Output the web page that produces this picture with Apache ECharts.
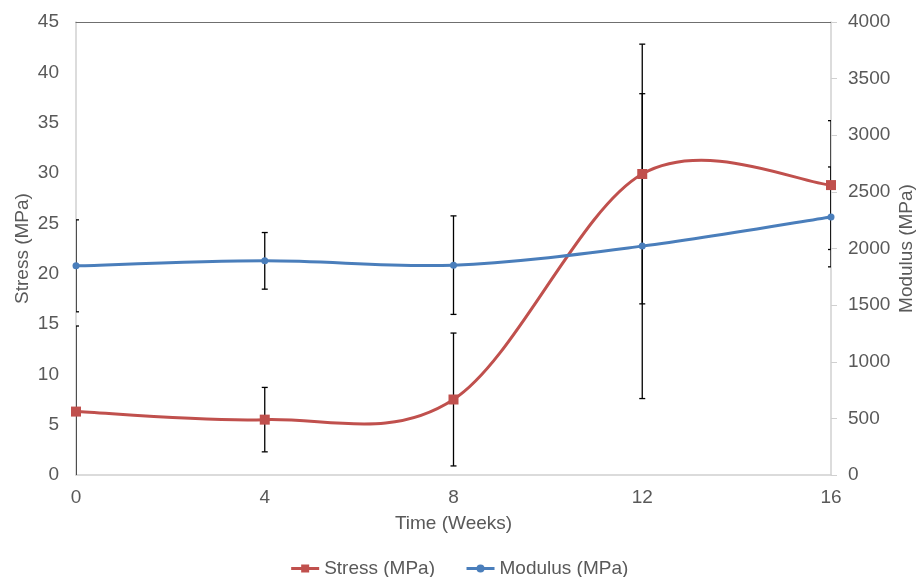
<!DOCTYPE html>
<html>
<head>
<meta charset="utf-8">
<script src="https://cdn.jsdelivr.net/npm/echarts@6/dist/echarts.min.js"></script>
<style>
  html, body { margin: 0; padding: 0; background: #fff; }
  #chart { width: 918px; height: 577px; }
</style>
</head>
<body>
<div id="chart"></div>
<script>
// values
var weeks = [0, 4, 8, 12, 16];
var stress = [6.3, 5.5, 7.5, 29.9, 28.8];
var stressErr = [8.5, 3.2, 6.6, 12.9, 6.4];
var modulus = [1847, 1891, 1853, 2021, 2279];
var modulusErr = [406, 250, 435, 1346, 441];

var RED = '#c0504d', BLUE = '#4a7ebb';
var FONT = '"Liberation Sans", Arial, sans-serif';
var GREY = '#595959';

function pairs(xs, ys) {
    return xs.map(function (x, i) { return [x, ys[i]]; });
}
function errData(xs, ys, es) {
    return xs.map(function (x, i) { return [x, ys[i] - es[i], ys[i] + es[i]]; });
}
// one item per segment: previous, start, end, next point (ends repeated)
function segments(xs, ys) {
    var out = [];
    for (var i = 0; i < xs.length - 1; i++) {
        var a = Math.max(i - 1, 0), d = Math.min(i + 2, xs.length - 1);
        out.push([xs[a], ys[a], xs[i], ys[i], xs[i + 1], ys[i + 1], xs[d], ys[d]]);
    }
    return out;
}

// whisker: vertical line + caps
function renderErr(params, api) {
    var lo = api.coord([api.value(0), api.value(1)]);
    var hi = api.coord([api.value(0), api.value(2)]);
    var w = 3;
    var style = { stroke: '#000', lineWidth: 1.3 };
    return {
        type: 'group',
        children: [
            { type: 'line', shape: { x1: lo[0], y1: lo[1], x2: hi[0], y2: hi[1] }, style: style },
            { type: 'line', shape: { x1: lo[0] - w, y1: lo[1], x2: lo[0] + w, y2: lo[1] }, style: style },
            { type: 'line', shape: { x1: hi[0] - w, y1: hi[1], x2: hi[0] + w, y2: hi[1] }, style: style }
        ]
    };
}

// catmull-rom style smoothing, like the spreadsheet's smoothed line
function curveRenderer(color) {
    return function (params, api) {
        var p = [];
        for (var k = 0; k < 4; k++) p.push(api.coord([api.value(2 * k), api.value(2 * k + 1)]));
        return {
            type: 'bezierCurve',
            shape: {
                x1: p[1][0], y1: p[1][1],
                x2: p[2][0], y2: p[2][1],
                cpx1: p[1][0] + (p[2][0] - p[0][0]) / 6,
                cpy1: p[1][1] + (p[2][1] - p[0][1]) / 6,
                cpx2: p[2][0] - (p[3][0] - p[1][0]) / 6,
                cpy2: p[2][1] - (p[3][1] - p[1][1]) / 6
            },
            style: { stroke: color, lineWidth: 3, fill: null, lineCap: 'round' }
        };
    };
}

var chart = echarts.init(document.getElementById('chart'), null, { renderer: 'canvas' });

chart.setOption({
    animation: false,
    textStyle: { fontFamily: FONT },
    grid: { left: 76, right: 87, top: 22, bottom: 102, containLabel: false, outerBoundsMode: 'none' },
    legend: {
        data: ['Stress (MPa)', 'Modulus (MPa)'],
        top: 554,
        left: 'center',
        itemWidth: 28,
        itemHeight: 10,
        itemGap: 30,
        lineStyle: { width: 3, opacity: 1 },
        textStyle: { fontSize: 19, color: GREY, fontFamily: FONT }
    },
    xAxis: [{
        type: 'value',
        min: 0, max: 16, interval: 4,
        name: 'Time (Weeks)',
        nameLocation: 'middle',
        nameGap: 39,
        nameMoveOverlap: false,
        nameTextStyle: { fontSize: 19, color: GREY },
        axisLine: { show: true, onZero: false, lineStyle: { color: '#d0d0d0', width: 1.5 } },
        axisTick: { show: false },
        axisLabel: { fontSize: 19, color: GREY, margin: 13 },
        splitLine: { show: false }
    }, {
        type: 'value',
        position: 'top',
        min: 0, max: 16,
        axisLine: { show: true, onZero: false, lineStyle: { color: '#6f6f6f', width: 1.2 } },
        axisTick: { show: false },
        axisLabel: { show: false },
        splitLine: { show: false }
    }],
    yAxis: [{
        type: 'value',
        min: 0, max: 45, interval: 5,
        name: 'Stress (MPa)',
        nameLocation: 'middle',
        nameGap: 44,
        nameMoveOverlap: false,
        nameTextStyle: { fontSize: 19, color: GREY },
        axisLine: { show: true, onZero: false, lineStyle: { color: '#d0d0d0', width: 1.5 } },
        axisTick: { show: false },
        axisLabel: { fontSize: 19, color: GREY, margin: 17 },
        splitLine: { show: false }
    }, {
        type: 'value',
        position: 'right',
        min: 0, max: 4000, interval: 500,
        name: 'Modulus (MPa)',
        nameLocation: 'middle',
        nameGap: 66,
        nameRotate: 90,
        nameMoveOverlap: false,
        nameTextStyle: { fontSize: 19, color: GREY },
        axisLine: { show: true, onZero: false, lineStyle: { color: '#d0d0d0', width: 1.5 } },
        axisTick: { show: true, inside: false, length: 6, lineStyle: { color: '#d0d0d0' } },
        axisLabel: { fontSize: 19, color: GREY, margin: 17, formatter: function (v) { return String(v); } },
        splitLine: { show: false }
    }],
    series: [
        {
            name: 'stressCurve',
            type: 'custom',
            yAxisIndex: 0,
            data: segments(weeks, stress),
            renderItem: curveRenderer(RED),
            encode: { x: [0, 2, 4, 6], y: [1, 3, 5, 7] },
            clip: true,
            z: 2
        },
        {
            name: 'modulusCurve',
            type: 'custom',
            yAxisIndex: 1,
            data: segments(weeks, modulus),
            renderItem: curveRenderer(BLUE),
            encode: { x: [0, 2, 4, 6], y: [1, 3, 5, 7] },
            clip: true,
            z: 2
        },
        {
            name: 'stressErr',
            type: 'custom',
            yAxisIndex: 0,
            data: errData(weeks, stress, stressErr),
            renderItem: renderErr,
            encode: { x: 0, y: [1, 2] },
            clip: true,
            z: 3
        },
        {
            name: 'modulusErr',
            type: 'custom',
            yAxisIndex: 1,
            data: errData(weeks, modulus, modulusErr),
            renderItem: renderErr,
            encode: { x: 0, y: [1, 2] },
            clip: true,
            z: 3
        },
        {
            name: 'Stress (MPa)',
            type: 'line',
            yAxisIndex: 0,
            data: pairs(weeks, stress),
            symbol: 'rect',
            symbolSize: 10,
            lineStyle: { color: RED, width: 0, opacity: 0 },
            itemStyle: { color: RED },
            clip: false,
            z: 4
        },
        {
            name: 'Modulus (MPa)',
            type: 'line',
            yAxisIndex: 1,
            data: pairs(weeks, modulus),
            symbol: 'circle',
            symbolSize: 7,
            lineStyle: { color: BLUE, width: 0, opacity: 0 },
            itemStyle: { color: BLUE },
            clip: false,
            z: 4
        }
    ]
});
</script>
</body>
</html>
